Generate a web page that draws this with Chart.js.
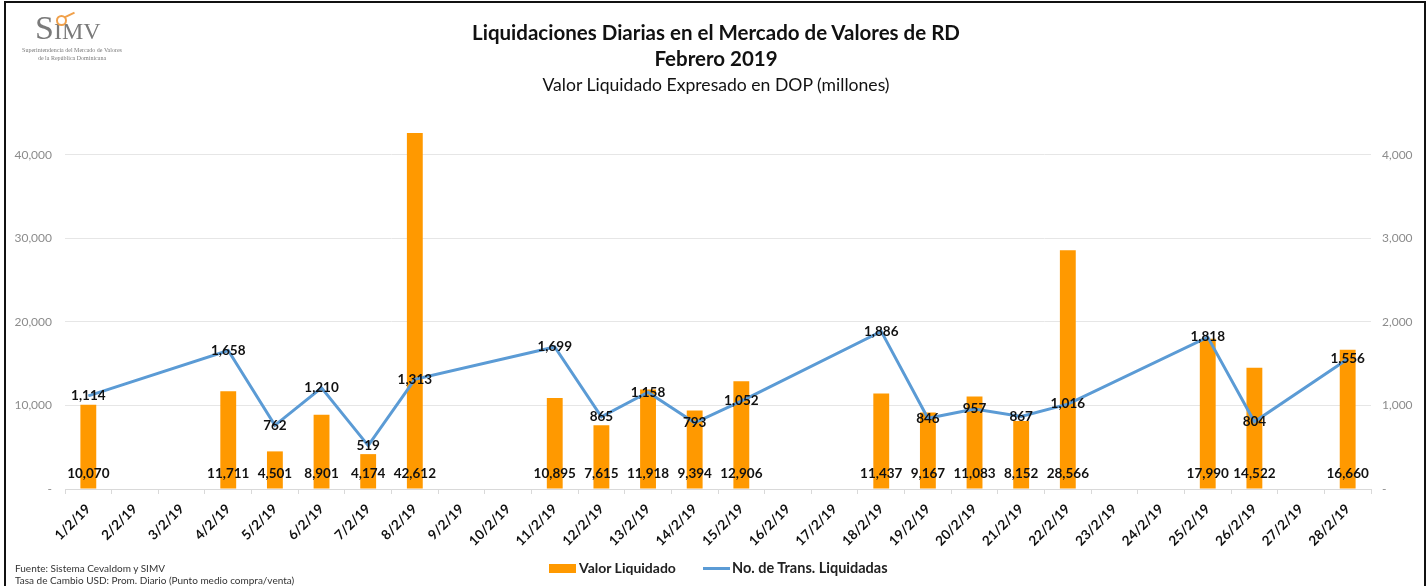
<!DOCTYPE html>
<html>
<head>
<meta charset="utf-8">
<script src="https://cdn.jsdelivr.net/npm/chart.js@4"></script>
<style>
    body { margin: 0; background: #fff; font-family: Lato, sans-serif; }
    #wrap { position: relative; width: 1427px; height: 586px; overflow: hidden; }
    #c { position: absolute; left: 0; top: 0; }
    .frame { position: absolute; background: #111; }
    .title { position: absolute; left: 0; width: 1432px; text-align: center; color: #111; white-space: nowrap; }
    .logo { position: absolute; font-family: "Liberation Serif", serif; color: #7a7a7a; }
    .foot { position: absolute; left: 15px; font-size: 10px; color: #333; }
    .leg { position: absolute; font-size: 14px; font-weight: bold; color: #222; }
</style>
</head>
<body>
<div id="wrap">
    <canvas id="c" width="1427" height="586"></canvas>

    <div class="frame" style="left:4px;top:1px;width:2px;height:586px"></div>
    <div class="frame" style="left:4px;top:1px;width:1422px;height:2px"></div>
    <div class="frame" style="left:1424px;top:1px;width:2px;height:586px"></div>

    <div class="logo" style="left:35px;top:10px;font-size:34px;line-height:36px">S<span style="font-size:24px">IMV</span></div>
    <div style="position:absolute;left:56px;top:15px;width:7px;height:7px;border:2px solid #f0a04a;border-radius:50%"></div>
    <div style="position:absolute;left:64px;top:14px;width:11px;height:2px;background:#f0a04a;transform:rotate(-25deg)"></div>
    <div class="logo" style="left:8px;top:47px;width:128px;text-align:center;font-size:6px;line-height:7.5px">Superintendencia del Mercado de Valores<br>de la República Dominicana</div>

    <div class="title" style="top:20px;font-size:20.5px;font-weight:bold">Liquidaciones Diarias en el Mercado de Valores de RD</div>
    <div class="title" style="top:46px;font-size:20.5px;font-weight:bold">Febrero 2019</div>
    <div class="title" style="top:74px;font-size:17.6px">Valor Liquidado Expresado en DOP (millones)</div>

    <div style="position:absolute;left:549px;top:564px;width:27px;height:9px;background:#ff9900"></div>
    <div class="leg" style="left:579px;top:559px">Valor Liquidado</div>
    <div style="position:absolute;left:703px;top:567px;width:27px;height:3px;background:#5b9bd5"></div>
    <div class="leg" style="left:732px;top:559px;font-size:14.5px">No. de Trans. Liquidadas</div>

    <div class="foot" style="top:562px">Fuente: Sistema Cevaldom y SIMV</div>
    <div class="foot" style="top:574px">Tasa de Cambio USD: Prom. Diario (Punto medio compra/venta)</div>
</div>

<script>
// dias de febrero 2019
var dias = [];
for (var d = 1; d <= 28; d++) {
    dias.push(d + '/2/19');
}

// valor liquidado (DOP millones), null = sin liquidaciones
var valorLiquidado = [
    10070, null, null, 11711, 4501, 8901, 4174, 42612, null, null,
    10895, 7615, 11918, 9394, 12906, null, null, 11437, 9167, 11083,
    8152, 28566, null, null, 17990, 14522, null, 16660
];

// numero de transacciones liquidadas
var transLiquidadas = [
    1114, null, null, 1658, 762, 1210, 519, 1313, null, null,
    1699, 865, 1158, 793, 1052, null, null, 1886, 846, 957,
    867, 1016, null, null, 1818, 804, null, 1556
];

// marcas de los ejes
var ticksValor = [0, 10000, 20000, 30000, 40000];
var ticksTrans = [0, 1000, 2000, 3000, 4000];

var fmt = function (v) {
    return v === 0 ? '-' : v.toLocaleString('en-US');
};

var dataLabels = {
    id: 'dataLabels',
    afterDatasetsDraw: function (chart) {
        var ctx = chart.ctx;
        var y0 = chart.scales.y.getPixelForValue(0);
        ctx.save();
        ctx.font = 'bold 13.5px Lato';
        ctx.fillStyle = '#111';
        ctx.textAlign = 'center';
        ctx.textBaseline = 'middle';
        chart.getDatasetMeta(0).data.forEach(function (el, i) {
            if (valorLiquidado[i] == null) return;
            ctx.fillText(fmt(valorLiquidado[i]), el.x, y0 - 15);
        });
        chart.getDatasetMeta(1).data.forEach(function (el, i) {
            if (transLiquidadas[i] == null) return;
            ctx.fillText(fmt(transLiquidadas[i]), el.x, el.y);
        });
        ctx.restore();
    }
};

var config = {
    data: {
        labels: dias,
        datasets: [{
            type: 'bar',
            label: 'Valor Liquidado',
            data: valorLiquidado,
            backgroundColor: '#ff9900',
            barPercentage: 0.34,
            categoryPercentage: 1,
            yAxisID: 'y',
            order: 2
        }, {
            type: 'line',
            label: 'No. de Trans. Liquidadas',
            data: transLiquidadas,
            borderColor: '#5b9bd5',
            borderWidth: 3,
            pointRadius: 0,
            spanGaps: true,
            tension: 0,
            yAxisID: 'y1',
            order: 1
        }]
    },
    options: {
        responsive: false,
        animation: false,
        layout: { padding: { top: 113, left: 0, right: 0, bottom: 0 } },
        plugins: {
            legend: { display: false },
            tooltip: { enabled: false }
        },
        scales: {
            x: {
                type: 'category',
                offset: true,
                grid: {
                    offset: true,
                    drawOnChartArea: false,
                    tickLength: 5,
                    tickColor: '#d9d9d9'
                },
                border: { color: '#d9d9d9' },
                ticks: {
                    autoSkip: false,
                    maxRotation: 45,
                    minRotation: 45,
                    padding: 7,
                    color: '#111',
                    font: { family: 'Lato', size: 13.5, weight: 'bold' }
                },
                afterFit: function (scale) { scale.height = 97; }
            },
            y: {
                type: 'linear',
                position: 'left',
                min: 0,
                max: 45000,
                afterBuildTicks: function (scale) {
                    scale.ticks = ticksValor.map(function (v) { return { value: v }; });
                },
                ticks: {
                    autoSkip: false,
                    padding: 13,
                    color: '#8c8c8c',
                    font: { family: 'Lato', size: 12 },
                    callback: fmt
                },
                grid: { drawTicks: false, color: '#e6e6e6' },
                border: { display: false },
                afterFit: function (scale) { scale.width = 65; }
            },
            y1: {
                type: 'linear',
                position: 'right',
                min: 0,
                max: 4500,
                afterBuildTicks: function (scale) {
                    scale.ticks = ticksTrans.map(function (v) { return { value: v }; });
                },
                ticks: {
                    autoSkip: false,
                    padding: 11,
                    color: '#8c8c8c',
                    font: { family: 'Lato', size: 12 },
                    callback: fmt
                },
                grid: { drawOnChartArea: false, drawTicks: false },
                border: { display: false },
                afterFit: function (scale) { scale.width = 56; }
            }
        }
    },
    plugins: [dataLabels]
};

new Chart(document.getElementById('c'), config);
</script>
</body>
</html>
